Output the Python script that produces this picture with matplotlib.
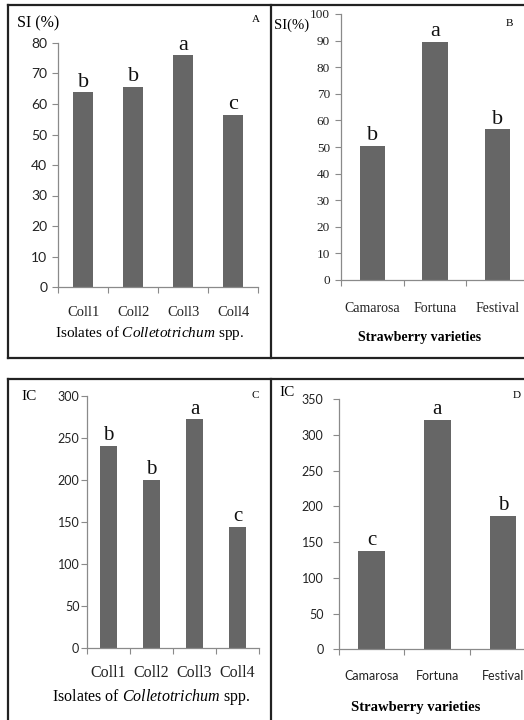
import matplotlib
matplotlib.use("Agg")
import matplotlib.pyplot as plt
from matplotlib.lines import Line2D

# ---------------------------------------------------------------------------
# Data
# ---------------------------------------------------------------------------
isolates = ["Coll1", "Coll2", "Coll3", "Coll4"]
varieties = ["Camarosa", "Fortuna", "Festival"]

si_isolates = [63.8, 65.7, 76.0, 56.4]
si_isolates_grp = ["b", "b", "a", "c"]
si_varieties = [50.5, 89.6, 56.6]
si_varieties_grp = ["b", "a", "b"]

ic_isolates = [240.5, 200.0, 272.0, 144.0]
ic_isolates_grp = ["b", "b", "a", "c"]
ic_varieties = [137.5, 321.0, 186.5]
ic_varieties_grp = ["c", "a", "b"]

# ---------------------------------------------------------------------------
# Style
# ---------------------------------------------------------------------------
SERIF = "Liberation Serif"
SANS = "Lato"
BAR_COLOR = "#666666"
AXIS_COLOR = "#8a8a8a"
plt.rcParams["mathtext.fontset"] = "custom"
plt.rcParams["mathtext.rm"] = SERIF
plt.rcParams["mathtext.it"] = SERIF + ":italic"

W, H = 524, 720
fig = plt.figure(figsize=(W / 100, H / 100), dpi=100)


def box(x0, x1, y_top, y_bot):
    """Pixel box (top-left origin) -> figure fraction rect."""
    return [x0 / W, 1 - y_bot / H, (x1 - x0) / W, (y_bot - y_top) / H]


def fig_text(x, y, s, **kw):
    fig.text(x / W, 1 - y / H, s, **kw)


def panel(rect, labels, values, groups, ymax, ystep,
          yfont, ysize, ypad, xfont, xsize, xpad, letter_size):
    ax = fig.add_axes(rect)
    n = len(values)
    pos = [i + 0.5 for i in range(n)]
    ax.bar(pos, values, width=0.4, color=BAR_COLOR, zorder=2)
    ax.set_xlim(0, n)
    ax.set_ylim(0, ymax)
    ax.set_yticks(range(0, ymax + 1, ystep))
    ax.set_xticks(pos)
    ax.set_xticklabels(labels, family=xfont, fontsize=xsize)
    ax.set_xticks(range(n + 1), minor=True)
    ax.tick_params(axis="x", which="major", length=0, pad=xpad, colors="#222222")
    ax.tick_params(axis="x", which="minor", length=4, direction="out",
                   color=AXIS_COLOR, width=0.8)
    ax.tick_params(axis="y", length=4, direction="out", color=AXIS_COLOR,
                   width=0.8, pad=ypad, labelsize=ysize, labelcolor="#222222")
    for t in ax.get_yticklabels():
        t.set_family(yfont)
    for side in ("top", "right"):
        ax.spines[side].set_visible(False)
    for side in ("left", "bottom"):
        ax.spines[side].set_color(AXIS_COLOR)
        ax.spines[side].set_linewidth(0.9)
    ax.patch.set_alpha(0)
    for x, v, g in zip(pos, values, groups):
        ax.annotate(g, (x, v), xytext=(0, 4), textcoords="offset points",
                    ha="center", va="baseline", family=SERIF,
                    fontsize=letter_size, color="#111111")
    return ax


# (A) SI of isolates
panel(box(58.3, 258.3, 43, 287), isolates, si_isolates, si_isolates_grp,
      80, 10, SANS, 10, 4, SERIF, 10.5, 14, 16)
fig_text(17, 23, "SI (%)", family=SERIF, fontsize=11.5, va="center")
fig_text(256, 20, "A", family=SERIF, fontsize=8, ha="center", va="center")
fig_text(150, 333, r"Isolates of $\mathit{Colletotrichum}$ spp.",
         family=SERIF, fontsize=11, ha="center", va="center")

# (B) SI of varieties
panel(box(341, 529, 14, 280), varieties, si_varieties, si_varieties_grp,
      100, 10, SERIF, 9.5, 4, SERIF, 10, 16, 16)
fig_text(274, 25, "SI(%)", family=SERIF, fontsize=10.5, va="center")
fig_text(509, 23, "B", family=SERIF, fontsize=8, ha="center", va="center")
fig_text(420, 338, "Strawberry varieties", family=SERIF, fontsize=10,
         fontweight="bold", ha="center", va="center")

# (C) IC of isolates
panel(box(87, 259, 395.7, 648), isolates, ic_isolates, ic_isolates_grp,
      300, 50, SANS, 9, 1.5, SERIF, 11.5, 12, 15)
fig_text(21, 397, "IC", family=SERIF, fontsize=11, va="center")
fig_text(255, 395, "C", family=SERIF, fontsize=8, ha="center", va="center")
fig_text(151, 697, r"Isolates of $\mathit{Colletotrichum}$ spp.",
         family=SERIF, fontsize=11.5, ha="center", va="center")

# (D) IC of varieties
panel(box(338.7, 536, 399, 649.3), varieties, ic_varieties, ic_varieties_grp,
      350, 50, SANS, 9, 7, SANS, 9, 15, 15)
fig_text(279, 393, "IC", family=SERIF, fontsize=11, va="center")
fig_text(517, 395, "D", family=SERIF, fontsize=8, ha="center", va="center")
fig_text(416, 707, "Strawberry varieties", family=SERIF, fontsize=10.5,
         fontweight="bold", ha="center", va="center")

# ---------------------------------------------------------------------------
# Panel frames
# ---------------------------------------------------------------------------
frames = [
    ((8, 524), (5, 5)), ((8, 524), (358, 358)),
    ((8, 8), (5, 358)), ((271, 271), (5, 358)),
    ((8, 524), (379, 379)),
    ((8, 8), (379, 720)), ((271, 271), (379, 720)),
]
for xs, ys in frames:
    fig.add_artist(Line2D([x / W for x in xs], [1 - y / H for y in ys],
                          transform=fig.transFigure, color="#222222", lw=1.6))

fig.savefig("out.png", dpi=100)
